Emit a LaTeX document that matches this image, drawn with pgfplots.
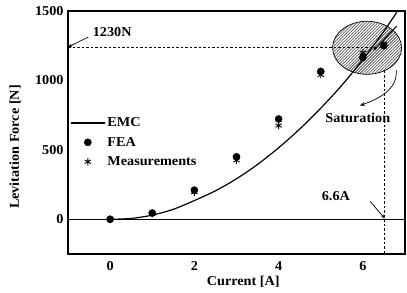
\documentclass[border=0pt]{standalone}
\usepackage{pgfplots}
\pgfplotsset{compat=1.18}
\usepackage{fontspec}
\setmainfont{Liberation Serif}[FakeStretch=1.05]
\usetikzlibrary{patterns,arrows.meta}
\newcommand{\ff}{\fontsize{13.6}{15}\selectfont\bfseries}
\begin{document}
\begin{tikzpicture}
\begin{axis}[
  at={(0,0)}, anchor=south west,
  scale only axis, width=337bp, height=243bp,
  xmin=-1, xmax=7, ymin=-250, ymax=1500,
  xtick={0,2,4,6}, ytick={0,500,1000,1500},
  major tick length=0pt,
  axis line style={line width=1.2pt},
  /pgf/number format/assume math mode=true,
  /pgf/number format/1000 sep={},
  ticklabel style={font=\ff},
  yticklabel style={xshift=-1bp},
  xticklabel style={yshift=-4bp},
  xlabel={Current [A]}, ylabel={Levitation Force [N]},
  label style={font=\ff},
  xlabel style={at={(axis description cs:0.52,0)}, anchor=center, yshift=-28bp},
  ylabel style={at={(axis description cs:-0.157,0.44)}, anchor=center},
  clip=true,
  legend style={draw=none, fill=none, at={(rel axis cs:0.006,0.57)}, anchor=north west,
    font=\ff, row sep=5bp, inner sep=0pt},
  legend cell align=left,
  legend image code/.code={\draw[mark repeat=2,mark phase=2,#1] plot coordinates {(0bp,0bp) (17bp,0bp) (34bp,0bp)};},
]
% zero line
\draw[line width=1.1pt] (axis cs:-1,0) -- (axis cs:7,0);
% dashed guides
\draw[line width=0.8pt, dash pattern=on 2.5bp off 2bp] (axis cs:-1,1235) -- (axis cs:6.52,1235);
\draw[line width=0.8pt, dash pattern=on 2.5bp off 2bp] (axis cs:6.52,1070) -- (axis cs:6.52,-250);
% hatched ellipse
\draw[line width=0.7pt, pattern=north east lines] (axis cs:6.1,1235) ellipse [x radius=34.5bp, y radius=26.5bp];

\addplot[black, line width=1.2pt, smooth, mark=none] coordinates {
(0,0) (0.5,6) (1,30) (1.5,72) (2,135) (2.5,205) (3,292) (3.5,395) (4,515) (4.5,650) (5,800) (5.5,965) (6,1150) (6.5,1355) (6.8,1490) (6.9,1550)};
\addlegendentry{EMC}
\addplot[black, only marks, mark=*, mark size=3.6bp] coordinates {
(0,0) (1,45) (2,210) (3,450) (4,722) (5,1065) (6,1165) (6.5,1250)};
\addlegendentry{FEA}
\addplot[black, only marks, mark=asterisk, mark size=3.6bp, line width=0.9pt] coordinates {
(0,0) (1,40) (2,195) (3,425) (4,675) (5,1040) (6,1200) (6.5,1265)};
\addlegendentry{Measurements}

% annotations
\node[font=\ff] at (axis cs:0.05,1348) {1230N};
\draw[-{Stealth[length=4bp]}, line width=0.7pt] (axis cs:-0.52,1312) -- (axis cs:-1,1240);
\draw[-{Stealth[length=4bp]}, line width=1pt] (axis cs:6.8,1390) -- (axis cs:6.25,1215);
\node[font=\ff] at (axis cs:5.88,732) {Saturation};
\draw[-{Stealth[length=5bp]}, line width=0.7pt] (axis cs:6.79,1075) to[out=-85,in=20] (axis cs:5.93,819);
\node[font=\ff] at (axis cs:5.36,165) {6.6A};
\draw[-{Stealth[length=4bp]}, line width=0.7pt] (axis cs:6.17,130) -- (axis cs:6.52,5);
\end{axis}
\pgfresetboundingbox
\path[use as bounding box] (-68bp,-39bp) rectangle (339bp,254bp);
\end{tikzpicture}
\end{document}
